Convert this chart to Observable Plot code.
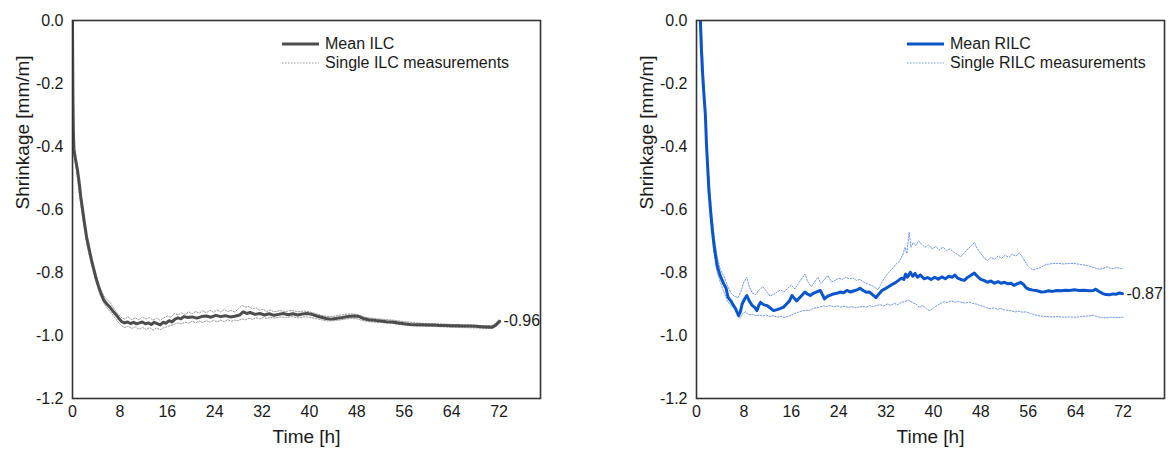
<!DOCTYPE html>
<html>
<head>
<meta charset="utf-8">
<script src="https://cdn.jsdelivr.net/npm/d3@7"></script>
<script src="https://cdn.jsdelivr.net/npm/@observablehq/plot@0.6"></script>
<style>
  html, body { margin: 0; padding: 0; background: #fff; }
  #wrap { position: relative; width: 1171px; height: 451px; overflow: hidden; font-family: "Liberation Sans", Arial, sans-serif; color: #1a1a1a; }
  .panel { position: absolute; top: 0; }
  .legend { position: absolute; font-size: 16px; line-height: 19px; }
  .legend .row { display: flex; align-items: center; height: 19px; white-space: nowrap; }
  .legend svg { margin-right: 6px; }
</style>
</head>
<body>
<div id="wrap"></div>
<script>
// ---- data ----
const xTicks = [0, 8, 16, 24, 32, 40, 48, 56, 64, 72];
const yTicks = [0, -0.2, -0.4, -0.6, -0.8, -1.0, -1.2];
const xLabel = "Time [h]";
const yLabel = "Shrinkage [mm/m]";

const ilcLegend = ["Mean ILC", "Single ILC measurements"];
const rilcLegend = ["Mean RILC", "Single RILC measurements"];
const ilcEndLabel = "-0.96";
const rilcEndLabel = "-0.87";

// [time h, shrinkage mm/m]
const ilcMean = [[0,0],[0.03,-0.12],[0.08,-0.26],[0.15,-0.36],[0.25,-0.41],[0.5,-0.44],[0.8,-0.47],[1.1,-0.51],[1.4,-0.56],[1.7,-0.60],[2.0,-0.64],[2.4,-0.69],[2.8,-0.725],[3.2,-0.76],[3.6,-0.79],[4.0,-0.82],[4.4,-0.845],[4.8,-0.866],[5.3,-0.888],[5.8,-0.900],[6.3,-0.910],[6.8,-0.922],[7.3,-0.933],[7.8,-0.945],[8.3,-0.956],[8.8,-0.960],[9.3,-0.957],[9.8,-0.962],[10.3,-0.958],[10.8,-0.963],[11.3,-0.960],[11.8,-0.957],[12.3,-0.963],[12.8,-0.960],[13.3,-0.965],[13.8,-0.958],[14.3,-0.962],[14.8,-0.966],[15.3,-0.958],[15.8,-0.961],[16.3,-0.953],[16.8,-0.957],[17.3,-0.948],[17.8,-0.944],[18.3,-0.947],[18.8,-0.940],[19.5,-0.943],[20.2,-0.941],[21,-0.945],[21.8,-0.940],[22.6,-0.938],[23.4,-0.942],[24.2,-0.936],[25,-0.940],[25.8,-0.937],[26.6,-0.941],[27.4,-0.939],[28.2,-0.935],[28.8,-0.925],[29.4,-0.930],[30,-0.927],[30.8,-0.933],[31.6,-0.930],[32.4,-0.935],[33.2,-0.931],[34,-0.936],[34.8,-0.933],[35.6,-0.930],[36.4,-0.934],[37.2,-0.931],[38,-0.935],[38.8,-0.932],[39.6,-0.930],[40.4,-0.933],[41.2,-0.938],[42,-0.942],[42.8,-0.946],[43.6,-0.948],[44.4,-0.946],[45.2,-0.944],[46,-0.941],[46.8,-0.939],[47.6,-0.938],[48.4,-0.940],[49.2,-0.947],[50,-0.950],[51,-0.952],[52,-0.954],[53,-0.956],[54,-0.957],[55,-0.960],[56,-0.963],[57,-0.965],[58,-0.966],[59,-0.966],[60,-0.967],[61,-0.967],[62,-0.968],[63,-0.968],[64,-0.969],[65,-0.969],[66,-0.970],[67,-0.970],[68,-0.971],[69,-0.972],[70,-0.973],[70.8,-0.974],[71.4,-0.968],[72.1,-0.955]];

const ilcSingleA = [[0,0],[0.1,-0.27],[0.3,-0.40],[0.7,-0.45],[1.2,-0.53],[1.8,-0.62],[2.5,-0.70],[3.2,-0.755],[4.0,-0.81],[4.6,-0.845],[5.2,-0.872],[5.8,-0.885],[6.4,-0.897],[7.0,-0.915],[7.6,-0.930],[8.2,-0.942],[8.8,-0.948],[9.4,-0.940],[10,-0.950],[10.6,-0.944],[11.2,-0.950],[11.8,-0.941],[12.4,-0.948],[13,-0.943],[13.6,-0.951],[14.2,-0.945],[14.8,-0.952],[15.4,-0.944],[16,-0.938],[16.6,-0.942],[17.2,-0.930],[17.8,-0.935],[18.4,-0.928],[19,-0.933],[19.6,-0.925],[20.2,-0.931],[20.8,-0.924],[21.4,-0.929],[22,-0.921],[22.6,-0.928],[23.2,-0.920],[23.8,-0.926],[24.4,-0.919],[25,-0.925],[25.6,-0.918],[26.2,-0.924],[26.8,-0.920],[27.4,-0.926],[28,-0.915],[28.6,-0.905],[29.2,-0.910],[29.8,-0.908],[30.4,-0.916],[31,-0.912],[31.6,-0.920],[32.2,-0.917],[32.8,-0.924],[33.4,-0.919],[34,-0.925],[35,-0.921],[36,-0.924],[37,-0.920],[38,-0.925],[39,-0.922],[40,-0.925],[41,-0.930],[42,-0.936],[43,-0.940],[44,-0.939],[45,-0.936],[46,-0.933],[47,-0.931],[48,-0.933],[49,-0.940],[50,-0.944],[52,-0.948],[54,-0.951],[56,-0.956],[58,-0.960],[60,-0.962],[62,-0.963],[64,-0.965],[66,-0.966],[68,-0.967],[70,-0.969],[71,-0.967],[72,-0.950]];

const ilcSingleB = [[0,0],[0.1,-0.33],[0.3,-0.43],[0.7,-0.48],[1.2,-0.56],[1.8,-0.64],[2.5,-0.72],[3.2,-0.775],[4.0,-0.83],[4.6,-0.865],[5.2,-0.895],[5.8,-0.912],[6.4,-0.925],[7.0,-0.940],[7.6,-0.955],[8.2,-0.968],[8.8,-0.975],[9.4,-0.970],[10,-0.978],[10.6,-0.972],[11.2,-0.980],[11.8,-0.974],[12.4,-0.981],[13,-0.975],[13.6,-0.983],[14.2,-0.976],[14.8,-0.982],[15.4,-0.975],[16,-0.972],[16.6,-0.968],[17.2,-0.964],[17.8,-0.960],[18.4,-0.963],[19,-0.957],[19.6,-0.961],[20.2,-0.955],[20.8,-0.960],[21.4,-0.954],[22,-0.959],[22.6,-0.953],[23.2,-0.958],[23.8,-0.952],[24.4,-0.957],[25,-0.951],[25.6,-0.956],[26.2,-0.950],[26.8,-0.955],[27.4,-0.951],[28,-0.953],[28.6,-0.947],[29.2,-0.950],[29.8,-0.945],[30.4,-0.949],[31,-0.944],[31.6,-0.947],[32.2,-0.943],[32.8,-0.946],[33.4,-0.942],[34,-0.945],[35,-0.941],[36,-0.943],[37,-0.940],[38,-0.944],[39,-0.941],[40,-0.942],[41,-0.946],[42,-0.950],[43,-0.954],[44,-0.953],[45,-0.951],[46,-0.948],[47,-0.946],[48,-0.947],[49,-0.953],[50,-0.956],[52,-0.959],[54,-0.962],[56,-0.967],[58,-0.970],[60,-0.971],[62,-0.972],[64,-0.974],[66,-0.975],[68,-0.976],[70,-0.978],[71,-0.976],[72,-0.960]];

const rilcMean = [[0.62,0.02],[0.8,-0.08],[1.0,-0.16],[1.2,-0.22],[1.5,-0.30],[1.7,-0.40],[1.9,-0.47],[2.1,-0.54],[2.4,-0.61],[2.7,-0.67],[3.0,-0.72],[3.5,-0.78],[4.0,-0.81],[4.6,-0.836],[5.0,-0.85],[5.3,-0.878],[5.8,-0.89],[6.1,-0.90],[6.6,-0.915],[7.1,-0.937],[7.4,-0.925],[7.7,-0.90],[8.1,-0.885],[8.5,-0.873],[8.9,-0.89],[9.4,-0.905],[9.8,-0.91],[10.2,-0.921],[10.5,-0.905],[10.8,-0.895],[11.3,-0.902],[11.9,-0.905],[12.4,-0.912],[13.0,-0.921],[13.6,-0.918],[14.2,-0.914],[14.7,-0.91],[15.2,-0.90],[15.7,-0.89],[16.1,-0.873],[16.5,-0.882],[16.9,-0.89],[17.4,-0.88],[17.8,-0.872],[18.3,-0.862],[18.7,-0.868],[19.2,-0.873],[19.7,-0.866],[20.2,-0.862],[20.9,-0.857],[21.3,-0.872],[21.6,-0.884],[22.1,-0.876],[22.6,-0.872],[23.1,-0.868],[23.7,-0.866],[24.3,-0.862],[24.8,-0.864],[25.4,-0.857],[26,-0.862],[26.6,-0.858],[27.1,-0.855],[27.6,-0.85],[28.2,-0.858],[28.7,-0.863],[29.2,-0.862],[29.7,-0.870],[30.3,-0.88],[30.8,-0.868],[31.3,-0.857],[31.8,-0.852],[32.4,-0.845],[33,-0.838],[33.6,-0.832],[34.1,-0.825],[34.6,-0.818],[35.0,-0.822],[35.3,-0.805],[35.6,-0.815],[36.1,-0.799],[36.5,-0.812],[36.9,-0.803],[37.3,-0.815],[37.8,-0.808],[38.4,-0.82],[39,-0.816],[39.6,-0.822],[40.2,-0.815],[40.8,-0.821],[41.4,-0.814],[42,-0.820],[42.6,-0.812],[43.2,-0.815],[43.6,-0.808],[44.1,-0.818],[44.6,-0.822],[45.2,-0.825],[45.8,-0.815],[46.4,-0.808],[46.9,-0.802],[47.4,-0.812],[48,-0.822],[48.6,-0.826],[49.1,-0.831],[49.7,-0.827],[50.3,-0.834],[50.9,-0.829],[51.4,-0.834],[52,-0.831],[52.6,-0.836],[53.1,-0.834],[53.6,-0.841],[54.1,-0.836],[54.7,-0.831],[55.2,-0.838],[55.6,-0.848],[56.1,-0.853],[56.8,-0.856],[57.5,-0.858],[58.2,-0.862],[58.8,-0.861],[59.4,-0.858],[60.1,-0.860],[60.8,-0.857],[61.5,-0.858],[62.3,-0.856],[63,-0.857],[63.8,-0.855],[64.6,-0.857],[65.4,-0.856],[66.2,-0.858],[67,-0.857],[67.4,-0.853],[67.9,-0.860],[68.5,-0.866],[69.1,-0.870],[69.7,-0.871],[70.3,-0.868],[70.9,-0.869],[71.4,-0.865],[71.9,-0.867]];

const rilcSingleA = [[0.6,0],[1.0,-0.14],[1.5,-0.28],[2.0,-0.48],[2.5,-0.60],[3.0,-0.69],[3.5,-0.75],[4.0,-0.79],[4.6,-0.81],[5.2,-0.84],[5.8,-0.865],[6.4,-0.875],[7.0,-0.88],[7.5,-0.86],[8.0,-0.83],[8.5,-0.815],[8.9,-0.845],[9.4,-0.865],[10,-0.87],[10.6,-0.855],[11.2,-0.845],[11.8,-0.86],[12.4,-0.875],[13,-0.87],[13.6,-0.862],[14.2,-0.855],[14.8,-0.862],[15.4,-0.85],[16,-0.84],[16.6,-0.852],[17.2,-0.835],[17.8,-0.818],[18.3,-0.805],[18.8,-0.83],[19.4,-0.845],[20,-0.828],[20.5,-0.815],[21,-0.835],[21.6,-0.822],[22.2,-0.81],[22.8,-0.83],[23.4,-0.825],[24,-0.818],[24.6,-0.822],[25.2,-0.815],[25.8,-0.82],[26.4,-0.818],[27,-0.825],[27.6,-0.822],[28.2,-0.83],[28.8,-0.835],[29.4,-0.84],[30,-0.845],[30.6,-0.855],[31.2,-0.835],[31.8,-0.815],[32.4,-0.80],[33,-0.79],[33.6,-0.775],[34.2,-0.765],[34.8,-0.745],[35.2,-0.72],[35.5,-0.74],[35.9,-0.672],[36.2,-0.72],[36.6,-0.705],[37,-0.715],[37.5,-0.700],[38,-0.71],[38.6,-0.72],[39.2,-0.712],[39.8,-0.725],[40.4,-0.718],[41,-0.728],[41.6,-0.72],[42.2,-0.73],[42.8,-0.725],[43.4,-0.735],[44,-0.742],[44.6,-0.75],[45.2,-0.738],[45.8,-0.725],[46.4,-0.715],[46.9,-0.705],[47.4,-0.725],[48,-0.74],[48.6,-0.755],[49.1,-0.762],[49.7,-0.752],[50.3,-0.758],[50.9,-0.748],[51.5,-0.755],[52.1,-0.745],[52.7,-0.752],[53.3,-0.742],[53.9,-0.748],[54.5,-0.738],[55,-0.75],[55.6,-0.77],[56.2,-0.785],[56.8,-0.792],[57.4,-0.788],[58,-0.785],[58.6,-0.778],[59.2,-0.774],[60,-0.772],[61,-0.771],[62,-0.773],[63,-0.771],[64,-0.772],[65,-0.775],[66,-0.778],[67,-0.784],[68,-0.79],[68.6,-0.787],[69.4,-0.782],[70,-0.788],[70.8,-0.785],[71.5,-0.786],[72,-0.789]];

const rilcSingleB = [[0.8,0],[1.2,-0.18],[1.6,-0.36],[2.0,-0.50],[2.5,-0.64],[3.0,-0.74],[3.5,-0.80],[4.0,-0.83],[4.6,-0.86],[5.2,-0.89],[5.8,-0.905],[6.4,-0.915],[7.0,-0.935],[7.4,-0.945],[7.8,-0.93],[8.3,-0.925],[8.8,-0.935],[9.4,-0.932],[10,-0.937],[10.6,-0.935],[11.2,-0.938],[11.8,-0.935],[12.4,-0.94],[13,-0.937],[13.6,-0.942],[14.2,-0.939],[14.8,-0.943],[15.4,-0.94],[16,-0.936],[16.6,-0.93],[17.2,-0.926],[17.8,-0.922],[18.4,-0.92],[19,-0.921],[19.6,-0.915],[20.2,-0.912],[20.8,-0.91],[21.4,-0.906],[22,-0.908],[22.6,-0.905],[23.2,-0.909],[23.8,-0.906],[24.4,-0.91],[25,-0.907],[25.6,-0.911],[26.2,-0.908],[26.8,-0.912],[27.4,-0.91],[28,-0.907],[28.6,-0.91],[29.2,-0.905],[29.8,-0.908],[30.4,-0.905],[31,-0.902],[31.6,-0.906],[32.2,-0.9],[32.8,-0.904],[33.4,-0.898],[34,-0.902],[34.6,-0.895],[35.2,-0.892],[35.8,-0.888],[36.4,-0.895],[37,-0.9],[37.6,-0.91],[38.2,-0.905],[38.8,-0.915],[39.4,-0.921],[40,-0.912],[40.6,-0.905],[41.2,-0.898],[41.8,-0.893],[42.4,-0.895],[43,-0.89],[43.6,-0.894],[44.2,-0.892],[44.8,-0.895],[45.4,-0.897],[46,-0.894],[46.6,-0.898],[47.2,-0.9],[47.8,-0.904],[48.4,-0.908],[49,-0.912],[49.6,-0.915],[50.2,-0.912],[50.8,-0.917],[51.4,-0.914],[52,-0.919],[52.6,-0.92],[53.2,-0.922],[53.8,-0.925],[54.4,-0.923],[55,-0.926],[55.6,-0.925],[56.4,-0.93],[57.2,-0.935],[58,-0.938],[59,-0.94],[60,-0.941],[61,-0.94],[62,-0.942],[63,-0.941],[64,-0.942],[65,-0.94],[66,-0.938],[67,-0.936],[67.6,-0.94],[68.4,-0.943],[69.2,-0.944],[70,-0.942],[71,-0.943],[72,-0.942]];

// ---- styles ----
const ilcMeanColor = "#4d4d4d";
const ilcSingleColor = "#9a9a9a";
const rilcMeanColor = "#0a55cc";
const rilcSingleColor = "#6f9be8";
const FONT = "'Liberation Sans', Arial, sans-serif";

function panel({mean, singles, meanColor, singleColor, endLabel, width, marginLeft, marginRight}) {
  const last = mean[mean.length - 1];
  return Plot.plot({
    width, height: 451,
    marginLeft, marginRight, marginTop: 20, marginBottom: 53,
    x: {domain: [0, 79]},
    y: {domain: [-1.2, 0]},
    style: {fontFamily: FONT, fontSize: "16px", color: "#1a1a1a", background: "transparent"},
    marks: [
      ...singles.map(s => Plot.line(s, {x: d => d[0], y: d => d[1], stroke: singleColor, strokeWidth: 1, strokeDasharray: "1.5,1.5", clip: true})),
      Plot.line(mean, {x: d => d[0], y: d => d[1], stroke: meanColor, strokeWidth: 3, clip: true}),
      Plot.text([last], {x: d => d[0], y: d => d[1], text: () => endLabel, textAnchor: "start", dx: 4, fontSize: 16, fill: "#1a1a1a"}),
      Plot.axisX({ticks: xTicks, tickSize: 0, tickPadding: 7, label: null, tickFormat: d => String(d), fontSize: 16}),
      Plot.axisY({ticks: yTicks, tickSize: 0, tickPadding: 9, label: null, tickFormat: d => d.toFixed(1), fontSize: 16}),
      Plot.frame({stroke: "#333", strokeWidth: 1.6}),
      Plot.text([yLabel], {text: d => d, frameAnchor: "left", dx: -50, rotate: -90, fontSize: 19, fill: "#1a1a1a"}),
      Plot.text([xLabel], {text: d => d, frameAnchor: "bottom", dy: 44, fontSize: 19, fill: "#1a1a1a"})
    ]
  });
}

function legend(labels, meanColor, singleColor, left) {
  const div = document.createElement("div");
  div.className = "legend";
  div.style.left = left + "px";
  div.style.top = "34px";
  div.innerHTML =
    `<div class="row"><svg width="37" height="6"><line x1="0" x2="37" y1="3" y2="3" stroke="${meanColor}" stroke-width="3"/></svg><span>${labels[0]}</span></div>` +
    `<div class="row"><svg width="37" height="6"><line x1="0" x2="37" y1="3" y2="3" stroke="${singleColor}" stroke-width="1" stroke-dasharray="1.5,1.5"/></svg><span>${labels[1]}</span></div>`;
  return div;
}

const wrap = document.getElementById("wrap");

const left = panel({mean: ilcMean, singles: [ilcSingleA, ilcSingleB], meanColor: ilcMeanColor, singleColor: ilcSingleColor, endLabel: ilcEndLabel, width: 585, marginLeft: 72, marginRight: 45});
left.classList.add("panel"); left.style.left = "0px";
wrap.appendChild(left);

const right = panel({mean: rilcMean, singles: [rilcSingleA, rilcSingleB], meanColor: rilcMeanColor, singleColor: rilcSingleColor, endLabel: rilcEndLabel, width: 586, marginLeft: 111, marginRight: 7});
right.classList.add("panel"); right.style.left = "585px";
wrap.appendChild(right);

wrap.appendChild(legend(ilcLegend, ilcMeanColor, ilcSingleColor, 282));
wrap.appendChild(legend(rilcLegend, rilcMeanColor, rilcSingleColor, 907));
</script>
</body>
</html>
